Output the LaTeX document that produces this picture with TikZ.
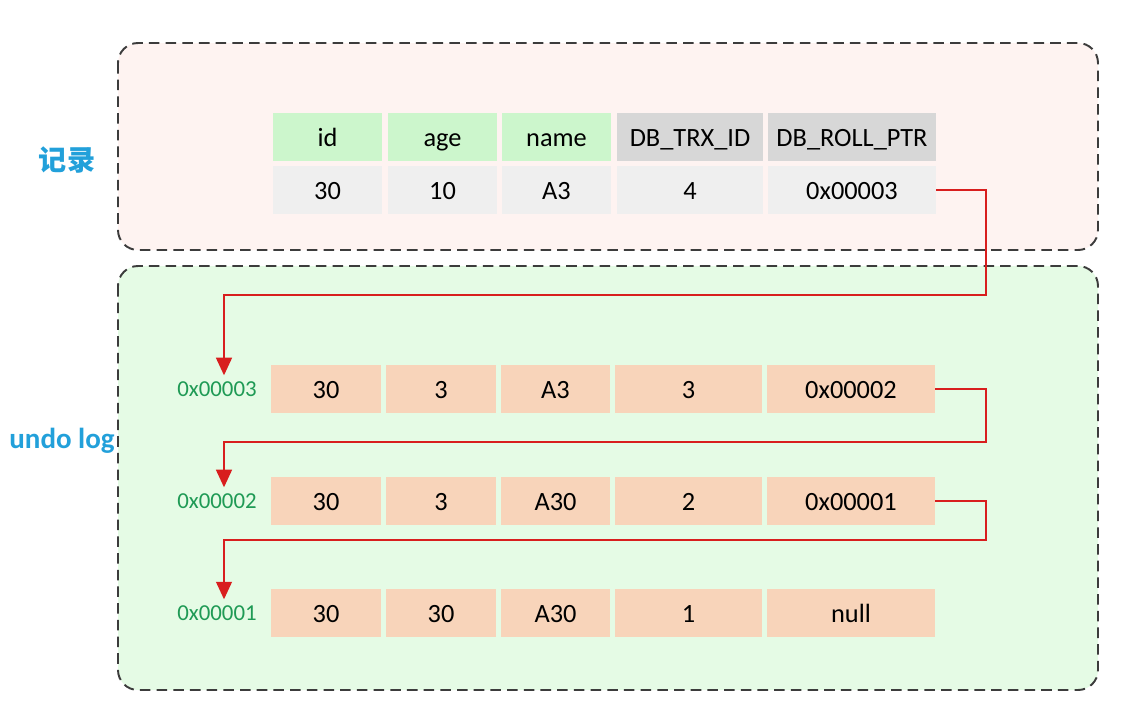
\documentclass[tikz,border=0pt]{standalone}
\usepackage{fontspec}
\setmainfont{Carlito}
\newfontfamily\cjk{Noto Sans CJK SC}
\usetikzlibrary{arrows.meta}
\definecolor{recpink}{HTML}{FEF3F1}
\definecolor{undogreen}{HTML}{E5FBE5}
\definecolor{headgreen}{HTML}{CCF6CC}
\definecolor{headgray}{HTML}{D7D7D7}
\definecolor{datagray}{HTML}{EFEFEF}
\definecolor{peach}{HTML}{F8D4BA}
\definecolor{addrgreen}{HTML}{1F9A55}
\definecolor{titleblue}{HTML}{22A0DA}
\definecolor{ptrred}{HTML}{D81E1E}
\definecolor{boxgray}{HTML}{3C3C3C}
\tikzset{cell/.style={minimum height=0.96cm,inner sep=0pt,text height=13pt,text depth=2pt,font=\fontsize{15}{18}\selectfont},
region/.style={draw=boxgray,dash pattern=on 6pt off 3.5pt,line width=1.1pt,rounded corners=0.4cm},
ptr/.style={draw=ptrred,line width=1.1pt,-{Triangle[width=9pt,length=10pt]}},
addr/.style={text=addrgreen,font=\fontsize{13}{15}\selectfont}}

\begin{document}
\begin{tikzpicture}[x=0.02cm,y=-0.02cm]
\useasboundingbox (0,0) rectangle (1138,721);
% the two regions
\draw[region,fill=recpink] (118,43) rectangle (1098,250);
\draw[region,fill=undogreen] (118,266) rectangle (1098,690);
\node[text=titleblue,font=\cjk\bfseries\fontsize{16}{18}\selectfont] (rec) at (67,160) {记录};
\node[text=titleblue,font=\bfseries\fontsize{16.5}{19}\selectfont] (undo) at (62,441) {undo log};
% current record
\foreach \x/\w/\c/\t [count=\i] in {327.5/109/headgreen/id,442.5/109/headgreen/age,556.5/109/headgreen/name,690/146/headgray/DB\_TRX\_ID,852/168/headgray/DB\_ROLL\_PTR}
\node[cell,fill=\c,minimum width=\w*0.02cm] (h\i) at (\x,137) {\t};
\foreach \x/\w/\t [count=\i] in {327.5/109/30,442.5/109/10,556.5/109/A3,690/146/4,852/168/0x00003}
\node[cell,fill=datagray,minimum width=\w*0.02cm] (d\i) at (\x,190) {\t};
% undo log rows
\foreach \y/\ad/\va/\vb/\vc/\vd/\ve [count=\r] in {389/0x00003/30/3/A3/3/0x00002,501/0x00002/30/3/A30/2/0x00001,613/0x00001/30/30/A30/1/null}{
\node[addr] (l\r) at (217,\y) {\ad};
\node[cell,fill=peach,minimum width=2.2cm] (u\r a) at (326,\y) {\va};
\node[cell,fill=peach,minimum width=2.2cm] (u\r b) at (441,\y) {\vb};
\node[cell,fill=peach,minimum width=2.18cm] (u\r c) at (555.5,\y) {\vc};
\node[cell,fill=peach,minimum width=2.94cm] (u\r d) at (688.5,\y) {\vd};
\node[cell,fill=peach,minimum width=3.36cm] (u\r e) at (851,\y) {\ve};
}
% roll pointers
\coordinate (k1) at (986,295);
\coordinate (k2) at (986,442);
\coordinate (k3) at (986,540);
\draw[ptr] (d5.east) -| (k1) -| ([xshift=0.14cm]l1.north);
\draw[ptr] (u1e.east) -| (k2) -| ([xshift=0.14cm]l2.north);
\draw[ptr] (u2e.east) -| (k3) -| ([xshift=0.14cm]l3.north);
\end{tikzpicture}
\end{document}
